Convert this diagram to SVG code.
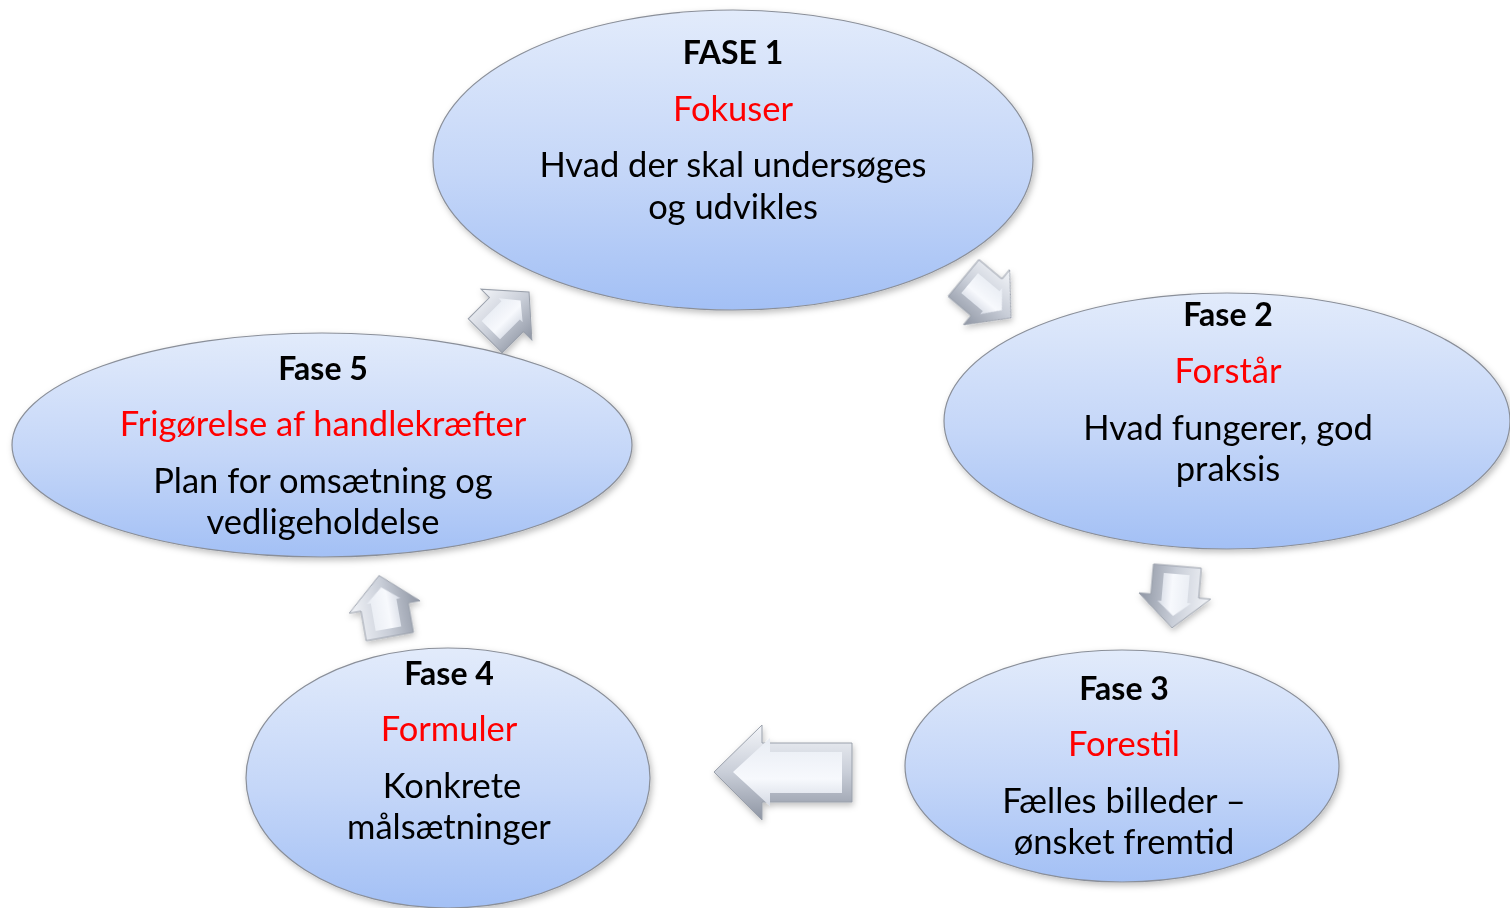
<svg xmlns="http://www.w3.org/2000/svg" width="1510" height="908" viewBox="0 0 1510 908">
<style>
.ell{fill:url(#eg);stroke:#8a8f99;stroke-width:1.2;filter:url(#sh)}
text{font-family:Lato,"Liberation Sans",sans-serif;font-size:34.5px;text-anchor:middle;fill:#000}
.h{font-weight:bold;font-size:32px}
.r{fill:#ff0000}
.arr{fill:url(#ag);stroke:#9aa0ab;stroke-width:1}
.arrIn{fill:url(#ag2);stroke:none}
</style>
<defs>
<linearGradient id="eg" x1="0" y1="0" x2="0" y2="1">
<stop offset="0" stop-color="#e2ebfb"/>
<stop offset="0.55" stop-color="#c4d6f8"/>
<stop offset="1" stop-color="#a3c0f5"/>
</linearGradient>
<linearGradient id="ag" x1="0" y1="0" x2="0" y2="1">
<stop offset="0" stop-color="#f3f5f9"/>
<stop offset="0.5" stop-color="#c9ced8"/>
<stop offset="1" stop-color="#8e95a3"/>
</linearGradient>
<linearGradient id="ag2" x1="0" y1="0" x2="0" y2="1">
<stop offset="0" stop-color="#e8ecf3"/>
<stop offset="0.6" stop-color="#f7f9fd"/>
<stop offset="1" stop-color="#d5dae4"/>
</linearGradient>
<filter id="sh" x="-10%" y="-10%" width="120%" height="125%">
<feDropShadow dx="2" dy="3" stdDeviation="3" flood-color="#000" flood-opacity="0.25"/>
</filter>
<filter id="ash" x="-30%" y="-30%" width="160%" height="160%">
<feDropShadow dx="1" dy="3" stdDeviation="3" flood-color="#000" flood-opacity="0.25"/>
</filter>
<g id="sa">
<path class="arr" d="M34,0 L2,-36 L2,-24 L-28,-24 L-28,24 L2,24 L2,36 Z"/>
<path class="arrIn" d="M22,0 L8,-17 L8,-13 L-20,-13 L-20,13 L8,13 L8,17 Z"/>
</g>
</defs>
<g id="connectors" filter="url(#ash)">
<use href="#sa" transform="translate(505,316) rotate(-45)"/>
<use href="#sa" transform="translate(985,296) rotate(40)"/>
<use href="#sa" transform="translate(1175,594) rotate(95)"/>
<use href="#sa" transform="translate(385,609) rotate(-100)"/>
<g id="bigarrow">
<path class="arr" d="M714,772 L762,725 L762,743 L852,743 L852,802 L762,802 L762,820 Z"/>
<path class="arrIn" d="M733,772 L770,738 L770,752 L842,752 L842,793 L770,793 L770,806 Z"/>
</g>
</g>
<g id="fase1">
<ellipse class="ell" cx="733" cy="160" rx="300" ry="150"/>
<text x="733" y="64" class="h">FASE 1</text>
<text x="733" y="121" class="r">Fokuser</text>
<text x="733" y="177">Hvad der skal undersøges</text>
<text x="733" y="219">og udvikles</text>
</g>
<g id="fase2">
<ellipse class="ell" cx="1227" cy="421" rx="283" ry="128"/>
<text x="1228" y="326" class="h">Fase 2</text>
<text x="1228" y="383" class="r">Forstår</text>
<text x="1228" y="440">Hvad fungerer, god</text>
<text x="1228" y="481">praksis</text>
</g>
<g id="fase3">
<ellipse class="ell" cx="1122" cy="766" rx="217" ry="116"/>
<text x="1124" y="700" class="h">Fase 3</text>
<text x="1124" y="756" class="r">Forestil</text>
<text x="1124" y="813">Fælles billeder –</text>
<text x="1124" y="854">ønsket fremtid</text>
</g>
<g id="fase4">
<ellipse class="ell" cx="448" cy="778" rx="202" ry="130"/>
<text x="449" y="685" class="h">Fase 4</text>
<text x="449" y="741" class="r">Formuler</text>
<text x="452" y="798">Konkrete</text>
<text x="449" y="839">målsætninger</text>
</g>
<g id="fase5">
<ellipse class="ell" cx="322" cy="445" rx="310" ry="112"/>
<text x="323" y="380" class="h">Fase 5</text>
<text x="323" y="436" class="r">Frigørelse af handlekræfter</text>
<text x="323" y="493">Plan for omsætning og</text>
<text x="323" y="534">vedligeholdelse</text>
</g>
</svg>
